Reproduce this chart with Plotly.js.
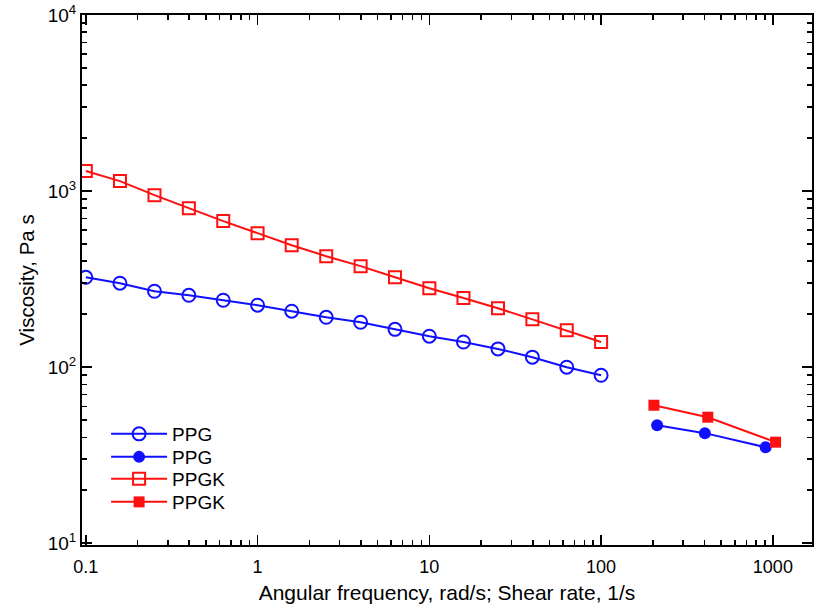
<!DOCTYPE html>
<html><head><meta charset="utf-8">
<script src="https://cdn.plot.ly/plotly-3.0.1.min.js"></script>
<style>html,body{margin:0;padding:0;background:#fff}#c{width:815px;height:608px}</style>
</head><body><div id="c"></div>
<script>
const freq = [0.1,0.158,0.251,0.398,0.631,1,1.58,2.51,3.98,6.31,10,15.8,25.1,39.8,63.1,100];
const ppgOsc = [324,300,270,256,240,225,208,192,180,164,150,139,127,114,100,90];
const ppgkOsc = [1300,1140,949,800,676,577,493,427,375,324,281,247,216,187,162,139];
const rateP = [212,402,908];
const ppgCap = [46.8,42.2,35.1];
const rateK = [203,418,1037];
const ppgkCap = [60.8,52,37.5];
const names = ['PPG','PPG','PPGK','PPGK'];
const yTickVals = [10,100,1000,10000];
const yTickText = ['10<sup>1</sup>','10<sup>2</sup>','10<sup>3</sup>','10<sup>4</sup>'];

const blue='#1010ff', red='#ff1010';
const traces = [
 {x:freq,y:ppgOsc,name:names[0],legend:'legend',mode:'lines+markers',line:{color:blue,width:2},
  marker:{symbol:'circle-open',size:13,color:blue,line:{width:2,color:blue}}},
 {x:rateP,y:ppgCap,name:names[1],legend:'legend2',mode:'lines+markers',line:{color:blue,width:2},
  marker:{symbol:'circle',size:12,color:blue}},
 {x:freq,y:ppgkOsc,name:names[2],legend:'legend3',mode:'lines+markers',line:{color:red,width:2},
  marker:{symbol:'square-open',size:12,color:red,line:{width:2,color:red}}},
 {x:rateK,y:ppgkCap,name:names[3],legend:'legend4',mode:'lines+markers',line:{color:red,width:2},
  marker:{symbol:'square',size:11,color:red}}
];
const font = {family:'Liberation Sans, Arial, sans-serif',color:'#000'};
const ax = {
  type:'log', showgrid:false, zeroline:false, showline:true, linecolor:'#000', linewidth:2,
  mirror:'allticks', ticks:'inside', ticklen:10, tickwidth:1.5, tickcolor:'#000',
  ticklabeloverflow:'allow',
  minor:{ticks:'inside', ticklen:5, tickwidth:1.5, tickcolor:'#000', dtick:'D1', showgrid:false}
};
const leg = (y) => ({x:0.033,y:y,xanchor:'left',yanchor:'middle',font:{...font,size:19},
  bgcolor:'rgba(0,0,0,0)',tracegroupgap:0,itemwidth:56});
const layout = {
  width:815, height:608,
  margin:{l:82,r:3,t:15,b:63},
  paper_bgcolor:'#fff', plot_bgcolor:'#fff',
  showlegend:true,
  legend:leg(0.2094), legend2:leg(0.166), legend3:leg(0.1245), legend4:leg(0.0811),
  xaxis:{...ax, range:[Math.log10(0.095),Math.log10(1690)], dtick:1, tickfont:{...font,size:18}, ticklabelstandoff:4,
    title:{text:'Angular frequency, rad/s; Shear rate, 1/s',font:{...font,size:21},standoff:10}},
  yaxis:{...ax, range:[0.99,4.0005], tickmode:'array', tickvals:yTickVals, ticktext:yTickText, tickfont:{...font,size:19},
    title:{text:'Viscosity, Pa s',font:{...font,size:20.5},standoff:7}}
};
Plotly.newPlot('c',traces,layout,{displayModeBar:false,staticPlot:true});
</script></body></html>
